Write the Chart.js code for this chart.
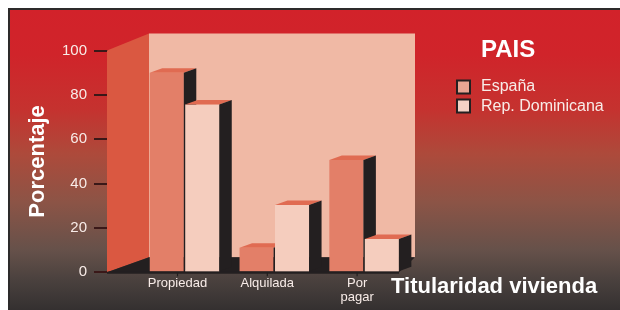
<!DOCTYPE html>
<html>
<head>
<meta charset="utf-8">
<script src="https://cdn.jsdelivr.net/npm/chart.js@4/dist/chart.umd.min.js"></script>
<style>
html,body{margin:0;padding:0;background:#ffffff;}
#frame{position:absolute;left:8px;top:8px;width:612px;height:302px;box-sizing:border-box;
  border-top:2px solid #2d2b2b;border-left:2px solid #2d2b2b;
  background:linear-gradient(to bottom,#d2222a 0%,#d0242a 15%,#c5322f 33%,#ad4a3b 48%,#8c5446 64%,#66514a 80%,#4a413e 90%,#343030 100%);}
#wrap{position:absolute;left:0;top:0;width:620px;height:310px;}
</style>
</head>
<body>
<div id="frame"></div>
<div id="wrap"><canvas id="c" width="620" height="310"></canvas></div>
<script>
// ---- data ----
const categories = ['Propiedad', 'Alquilada', ['Por', 'pagar']];
const seriesNames = ['España', 'Rep. Dominicana'];
const espana = [90, 11.1, 50.6];
const repDominicana = [75.7, 30.3, 15];
const yTicks = [0, 20, 40, 60, 80, 100];
const legendTitle = 'PAIS';
const yTitle = 'Porcentaje';
const xTitle = 'Titularidad vivienda';

// ---- styles ----
const FONT = "'Liberation Sans', Arial, Helvetica, sans-serif";
const frontColors = ['#e37f68', '#f5cdbe'];
const legendColors = ['#e8a593', '#f4d2c5'];
const topColor = '#e06b52';
const sideColor = '#231f20';
const backWallColor = '#f0b9a5';
const leftWallColor = '#da5841';
const floorColor = '#231f20';
const textColor = '#f8ece8';
const BAR_DX = 12.5, BAR_DY = -4.5;

function poly(ctx, pts) {
  ctx.beginPath();
  ctx.moveTo(pts[0][0], pts[0][1]);
  for (let i = 1; i < pts.length; i++) ctx.lineTo(pts[i][0], pts[i][1]);
  ctx.closePath();
  ctx.fill();
}

function drawTopSide(ctx, bar) {
  const p = bar.getProps(['x', 'y', 'base', 'width'], true);
  const l = p.x - p.width / 2, r = p.x + p.width / 2;
  ctx.fillStyle = topColor;
  poly(ctx, [[l, p.y], [r, p.y], [r + BAR_DX, p.y + BAR_DY], [l + BAR_DX, p.y + BAR_DY]]);
  ctx.fillStyle = sideColor;
  poly(ctx, [[r, p.y], [r + BAR_DX, p.y + BAR_DY], [r + BAR_DX, p.base + BAR_DY], [r, p.base]]);
}

const threeD = {
  id: 'threeD',
  beforeDatasetsDraw(chart) {
    const {ctx, chartArea: a, scales: {y}} = chart;
    const y0 = y.getPixelForValue(0), y100 = y.getPixelForValue(100);
    const fx = a.left - 32.6, bx = fx + 42, br = a.right + 6;
    ctx.save();
    ctx.fillStyle = backWallColor;
    ctx.fillRect(bx, y100 - 17, br - bx, (y0 - 15) - (y100 - 17));
    ctx.fillStyle = leftWallColor;
    poly(ctx, [[fx, y100], [bx, y100 - 17], [bx, y0 - 15], [fx, y0]]);
    ctx.fillStyle = floorColor;
    poly(ctx, [[fx, y0], [bx, y0 - 15], [br, y0 - 15], [a.right - 10, y0]]);
    ctx.restore();
  },
  afterDatasetsDraw(chart) {
    const {ctx, chartArea: a, scales: {x, y}} = chart;
    const m0 = chart.getDatasetMeta(0), m1 = chart.getDatasetMeta(1);
    ctx.save();
    m0.data.forEach(b => drawTopSide(ctx, b));
    m1.data.forEach(b => { b.draw(ctx, a); drawTopSide(ctx, b); });
    // axis line at front edge of floor
    const y0 = y.getPixelForValue(0);
    ctx.strokeStyle = '#231f20';
    ctx.lineWidth = 2;
    ctx.beginPath();
    ctx.moveTo(a.left - 32.6, y0 + 0.5);
    ctx.lineTo(a.right - 10, y0 + 0.5);
    ctx.stroke();
    // category tick marks
    ctx.lineWidth = 1.2;
    const off = x.options.ticks.labelOffset;
    categories.forEach((c, i) => {
      const px = x.getPixelForValue(i) + off;
      ctx.beginPath();
      ctx.moveTo(px, y0);
      ctx.lineTo(px, y0 + 4);
      ctx.stroke();
    });
    ctx.restore();
  },
  afterDraw(chart) {
    const ctx = chart.ctx;
    ctx.save();
    ctx.fillStyle = '#ffffff';
    ctx.textBaseline = 'alphabetic';
    ctx.textAlign = 'left';
    ctx.font = 'bold 24px ' + FONT;
    ctx.fillText(legendTitle, 481, 57);
    chart.data.datasets.forEach((ds, i) => {
      const top = 80.5 + i * 19;
      ctx.fillStyle = legendColors[i];
      ctx.fillRect(457, top, 13, 13);
      ctx.strokeStyle = '#231f20';
      ctx.lineWidth = 2;
      ctx.strokeRect(457, top, 13, 13);
      ctx.fillStyle = textColor;
      ctx.font = '16px ' + FONT;
      ctx.fillText(ds.label, 481, 90.5 + i * 20.5);
    });
    ctx.fillStyle = '#ffffff';
    ctx.font = 'bold 22px ' + FONT;
    ctx.fillText(xTitle, 391, 293);
    ctx.restore();
  }
};

new Chart(document.getElementById('c'), {
  type: 'bar',
  data: {
    labels: categories,
    datasets: [
      {label: seriesNames[0], data: espana, backgroundColor: frontColors[0], borderWidth: 0},
      {label: seriesNames[1], data: repDominicana, backgroundColor: frontColors[1], borderWidth: 0}
    ]
  },
  options: {
    responsive: false,
    animation: false,
    events: [],
    categoryPercentage: 0.79,
    barPercentage: 0.96,
    layout: {padding: {top: 50.5, right: 211, bottom: 0, left: 0}},
    plugins: {legend: {display: false}, tooltip: {enabled: false}},
    scales: {
      x: {
        grid: {display: false, drawTicks: false, tickLength: 0},
        border: {display: false},
        ticks: {
          color: textColor, padding: 4, labelOffset: -7, autoSkip: false, maxRotation: 0,
          font: {family: FONT, size: 13, lineHeight: 1.1}
        },
        afterFit(s) { s.height = 37.7; }
      },
      y: {
        min: 0, max: 100,
        afterBuildTicks(s) { s.ticks = yTicks.map(v => ({value: v})); },
        grid: {display: true, drawOnChartArea: false, drawTicks: true, tickLength: 45.6, color: '#3a1818', lineWidth: 2},
        border: {display: false},
        ticks: {color: textColor, padding: 7, font: {family: FONT, size: 15}},
        title: {display: true, text: yTitle, color: '#ffffff', padding: {top: 25, bottom: 0},
          font: {family: FONT, size: 22, weight: 'bold', lineHeight: 1.2}},
        afterFit(s) { s.width = 139.6; }
      }
    }
  },
  plugins: [threeD]
});
</script>
</body>
</html>
